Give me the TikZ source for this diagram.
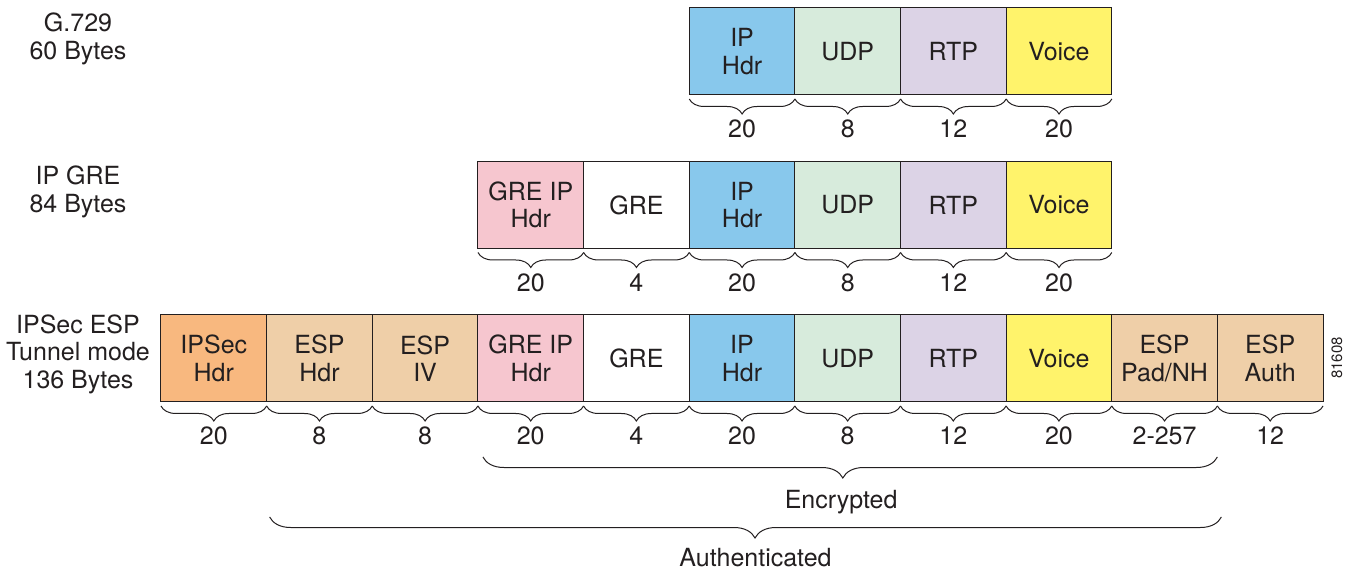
\documentclass[tikz,border=0pt]{standalone}
\usepackage{fontspec}
\setmainfont{TeX Gyre Heros}
\usetikzlibrary{positioning,decorations.pathreplacing}

\definecolor{iphdr}{HTML}{88C8EC}
\definecolor{udp}{HTML}{D7EBDC}
\definecolor{rtp}{HTML}{DCD3E6}
\definecolor{voice}{HTML}{FFF36B}
\definecolor{greip}{HTML}{F6C6CF}
\definecolor{ipsec}{HTML}{F8B87F}
\definecolor{esp}{HTML}{EFCFA8}
\definecolor{ink}{HTML}{231F20}

\tikzset{
  field/.style={draw=ink, line width=0.5pt, minimum width=52.82pt, minimum height=43.5pt,
    inner sep=0pt, outer sep=0pt, align=center, text=ink,
    font=\fontsize{12.5}{13.75}\selectfont},
  sizebrace/.style={draw=ink, line width=0.5pt, decorate,
    decoration={brace, mirror, amplitude=7.5pt, raise=2pt}},
  bigbrace/.style 2 args={draw=ink, line width=0.5pt, decorate,
    decoration={brace, mirror, amplitude=10.5pt, raise=#1, aspect=#2}},
  num/.style={midway, yshift=-17pt, text=ink, font=\fontsize{12.5}{13.75}\selectfont},
  rowname/.style={align=center, text=ink, font=\fontsize{12.5}{13.75}\selectfont}
}

\begin{document}
\begin{tikzpicture}[x=0.5pt, y=-0.5pt]
  \useasboundingbox (0,0) rectangle (1349,571);

  % G.729
  \node[rowname] (g729) at (78,39) {G.729\\60 Bytes};
  \node[field, fill=iphdr] (a1) at (742.1,51.5) {IP\\Hdr};
  \node[field, fill=udp, right=0pt of a1] (a2) {UDP};
  \node[field, fill=rtp, right=0pt of a2] (a3) {RTP};
  \node[field, fill=voice, right=0pt of a3] (a4) {Voice};

  \draw[sizebrace] (a1.south west) -- (a1.south east) node[num] (na1) {20};
  \draw[sizebrace] (a2.south west) -- (a2.south east) node[num] (na2) {8};
  \draw[sizebrace] (a3.south west) -- (a3.south east) node[num] (na3) {12};
  \draw[sizebrace] (a4.south west) -- (a4.south east) node[num] (na4) {20};

  % IP GRE
  \node[rowname] (ipgre) at (78,192) {IP GRE\\84 Bytes};
  \node[field, fill=greip] (b1) at (530.8,205) {GRE IP\\Hdr};
  \node[field, fill=white, right=0pt of b1] (b2) {GRE};
  \node[field, fill=iphdr, right=0pt of b2] (b3) {IP\\Hdr};
  \node[field, fill=udp, right=0pt of b3] (b4) {UDP};
  \node[field, fill=rtp, right=0pt of b4] (b5) {RTP};
  \node[field, fill=voice, right=0pt of b5] (b6) {Voice};

  \draw[sizebrace] (b1.south west) -- (b1.south east) node[num] (nb1) {20};
  \draw[sizebrace] (b2.south west) -- (b2.south east) node[num] (nb2) {4};
  \draw[sizebrace] (b3.south west) -- (b3.south east) node[num] (nb3) {20};
  \draw[sizebrace] (b4.south west) -- (b4.south east) node[num] (nb4) {8};
  \draw[sizebrace] (b5.south west) -- (b5.south east) node[num] (nb5) {12};
  \draw[sizebrace] (b6.south west) -- (b6.south east) node[num] (nb6) {20};

  % IPSec ESP tunnel mode
  \node[rowname] (ipsecesp) at (78,354) {IPSec ESP\\Tunnel mode\\136 Bytes};
  \node[field, fill=ipsec] (c1) at (213.8,358.5) {IPSec\\Hdr};
  \node[field, fill=esp, right=0pt of c1] (c2) {ESP\\Hdr};
  \node[field, fill=esp, right=0pt of c2] (c3) {ESP\\IV};
  \node[field, fill=greip, right=0pt of c3] (c4) {GRE IP\\Hdr};
  \node[field, fill=white, right=0pt of c4] (c5) {GRE};
  \node[field, fill=iphdr, right=0pt of c5] (c6) {IP\\Hdr};
  \node[field, fill=udp, right=0pt of c6] (c7) {UDP};
  \node[field, fill=rtp, right=0pt of c7] (c8) {RTP};
  \node[field, fill=voice, right=0pt of c8] (c9) {Voice};
  \node[field, fill=esp, right=0pt of c9] (c10) {ESP\\Pad/NH};
  \node[field, fill=esp, right=0pt of c10] (c11) {ESP\\Auth};

  \draw[sizebrace] (c1.south west) -- (c1.south east) node[num] (nc1) {20};
  \draw[sizebrace] (c2.south west) -- (c2.south east) node[num] (nc2) {8};
  \draw[sizebrace] (c3.south west) -- (c3.south east) node[num] (nc3) {8};
  \draw[sizebrace] (c4.south west) -- (c4.south east) node[num] (nc4) {20};
  \draw[sizebrace] (c5.south west) -- (c5.south east) node[num] (nc5) {4};
  \draw[sizebrace] (c6.south west) -- (c6.south east) node[num] (nc6) {20};
  \draw[sizebrace] (c7.south west) -- (c7.south east) node[num] (nc7) {8};
  \draw[sizebrace] (c8.south west) -- (c8.south east) node[num] (nc8) {12};
  \draw[sizebrace] (c9.south west) -- (c9.south east) node[num] (nc9) {20};
  \draw[sizebrace] (c10.south west) -- (c10.south east) node[num] (nc10) {2-257};
  \draw[sizebrace] (c11.south west) -- (c11.south east) node[num] (nc11) {12};

  % encrypted / authenticated spans
  \draw[bigbrace={27.5pt}{0.49}] ([xshift=2.5pt]c4.south west) -- (c10.south east)
    node[num, yshift=-33pt, xshift=-4.5pt] (encrypted) {Encrypted};
  \draw[bigbrace={57.5pt}{0.51}] ([xshift=1.5pt]c2.south west) -- ([xshift=2pt]c10.south east)
    node[num, yshift=-61pt, xshift=5pt] (authenticated) {Authenticated};

  \node[rotate=90, text=ink, font=\fontsize{7.5}{8}\selectfont] (figid) at (1337,358) {81608};
\end{tikzpicture}
\end{document}
